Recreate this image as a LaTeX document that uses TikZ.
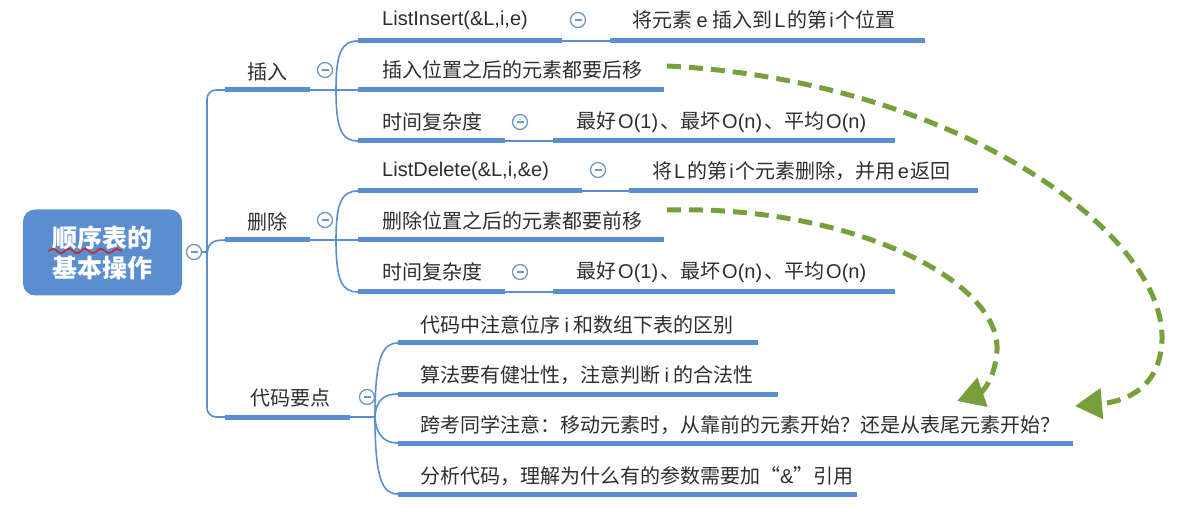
\documentclass[tikz,border=0pt]{standalone}
\usepackage{fontspec}
\setmainfont{Noto Sans CJK SC}
\newfontfamily\latf{Liberation Sans}
\newcommand\la[1]{\hspace{2pt}{\latf #1}\hspace{2pt}}
\newcommand\lb[1]{{\latf #1}}
\usetikzlibrary{arrows.meta,decorations.pathmorphing}
\definecolor{mblue}{HTML}{5A8ED0}
\definecolor{cblue}{HTML}{6F97C9}
\definecolor{rootblue}{HTML}{5A8ED0}
\definecolor{tgray}{HTML}{2E2E2E}
\definecolor{agreen}{HTML}{77A03C}
\definecolor{wred}{HTML}{C62A2A}
\begin{document}
\begin{tikzpicture}[x=1pt,y=-1pt,
 ul/.style={draw=mblue,line width=5pt},
 thinl/.style={draw=mblue,line width=1.6pt},
 txt/.style={anchor=west,inner sep=0pt,text=tgray,font=\fontsize{20}{22}\selectfont},
 minus/.style={circle,draw=cblue,line width=1.3pt,fill=white,minimum size=15pt,inner sep=0pt,
   path picture={\draw[cblue,line width=1.2pt] ([xshift=-3.5pt]path picture bounding box.center) -- ([xshift=3.5pt]path picture bounding box.center);}},
 rootbox/.style={rounded corners=12pt,fill=rootblue,minimum width=159pt,minimum height=86pt,text=white,align=center,
   font=\fontsize{25}{30}\selectfont\bfseries},
 garrow/.style={draw=agreen,line width=5pt,dash pattern=on 14pt off 8pt,-{Triangle[length=27pt,width=30pt]}}
]
\useasboundingbox (0,0) rectangle (1188,518);
% root
\node[rootbox] (root) at (102.5,252.5) {顺序表的\\基本操作};
\draw[wred,line width=1.7pt,decorate,decoration={snake,amplitude=2.2pt,segment length=16pt}] (48,251) -- (122,251);
\node[minus] (m0) at (194,252) {};
% level 1 coordinates
\coordinate (b1s) at (225,90);  \coordinate (b1e) at (310,90);
\coordinate (b2s) at (225,240); \coordinate (b2e) at (310,240);
\coordinate (b3s) at (225,417); \coordinate (b3e) at (350,417);
\coordinate (t0) at (207,252);
\draw[thinl] (m0.east) -- (t0);
\draw[thinl,rounded corners=9pt] (b1s) -- (207,90) -- (207,417) -- (b3s);
\draw[thinl] (207,258) .. controls (207,243) and (212,240) .. (b2s);
\draw[ul] (b1s) -- (b1e);
\draw[ul] (b2s) -- (b2e);
\draw[ul] (b3s) -- (b3e);
\node[txt,anchor=center] (b1) at (267,72) {插入};
\node[txt,anchor=center] (b2) at (267,222) {删除};
\node[txt,anchor=center] (b3) at (290,398) {代码要点};
\node[minus] (m1) at (325,70) {};
\node[minus] (m2) at (325,220) {};
\node[minus] (m3) at (367,397) {};
% ---- 插入 group
\coordinate (j1) at (336,90);
\coordinate (c11s) at (358,41); \coordinate (c11e) at (562,41);
\coordinate (c12s) at (358,90); \coordinate (c12e) at (664,90);
\coordinate (c13s) at (358,141); \coordinate (c13e) at (505,141);
\draw[thinl] (b1e) -- (j1);
\draw[thinl] (j1) .. controls (336,52) and (342,41) .. (c11s);
\draw[thinl] (j1) -- (c12s);
\draw[thinl] (j1) .. controls (336,130) and (342,141) .. (c13s);
\draw[ul] (c11s) -- (c11e);
\draw[ul] (c12s) -- (c12e);
\draw[ul] (c13s) -- (c13e);
\node[txt] (c11) at (382,20) {\lb{ListInsert(\&L,i,e)}};
\node[txt] (c12) at (382,70) {插入位置之后的元素都要后移};
\node[txt] (c13) at (382,122) {时间复杂度};
\node[minus] (m11) at (578,20) {};
\node[minus] (m13) at (520,122) {};
\coordinate (d11s) at (610,41); \coordinate (d11e) at (925,41);
\coordinate (d13s) at (553,141); \coordinate (d13e) at (895,141);
\draw[thinl] (c11e) -- (d11s);
\draw[thinl] (c13e) -- (d13s);
\draw[ul] (d11s) -- (d11e);
\draw[ul] (d13s) -- (d13e);
\node[txt] (d11) at (632,20) {将元素 \lb{e} 插入到\la{L}的第\la{i}个位置};
\node[txt] (d13) at (576,122) {最好\la{O(1)}、最坏\la{O(n)}、平均\la{O(n)}};
% ---- 删除 group
\coordinate (j2) at (336,240);
\coordinate (c21s) at (358,191); \coordinate (c21e) at (582,191);
\coordinate (c22s) at (358,240); \coordinate (c22e) at (664,240);
\coordinate (c23s) at (358,292); \coordinate (c23e) at (505,292);
\draw[thinl] (b2e) -- (j2);
\draw[thinl] (j2) .. controls (336,202) and (342,191) .. (c21s);
\draw[thinl] (j2) -- (c22s);
\draw[thinl] (j2) .. controls (336,281) and (342,292) .. (c23s);
\draw[ul] (c21s) -- (c21e);
\draw[ul] (c22s) -- (c22e);
\draw[ul] (c23s) -- (c23e);
\node[txt] (c21) at (382,171) {\lb{ListDelete(\&L,i,\&e)}};
\node[txt] (c22) at (382,221) {删除位置之后的元素都要前移};
\node[txt] (c23) at (382,272) {时间复杂度};
\node[minus] (m21) at (598,170) {};
\node[minus] (m23) at (520,272) {};
\coordinate (d21s) at (629,191); \coordinate (d21e) at (978,191);
\coordinate (d23s) at (553,292); \coordinate (d23e) at (895,292);
\draw[thinl] (c21e) -- (d21s);
\draw[thinl] (c23e) -- (d23s);
\draw[ul] (d21s) -- (d21e);
\draw[ul] (d23s) -- (d23e);
\node[txt] (d21) at (652,171) {将\la{L}的第\la{i}个元素删除，并用\la{e}返回};
\node[txt] (d23) at (576,272) {最好\la{O(1)}、最坏\la{O(n)}、平均\la{O(n)}};
% ---- 代码要点 group
\coordinate (j3) at (375,417);
\coordinate (c31s) at (398,343); \coordinate (c31e) at (758,343);
\coordinate (c32s) at (398,394); \coordinate (c32e) at (778,394);
\coordinate (c33s) at (398,443); \coordinate (c33e) at (1073,443);
\coordinate (c34s) at (398,494); \coordinate (c34e) at (857,494);
\draw[thinl] (b3e) -- (j3);
\draw[thinl] (j3) .. controls (375,356) and (383,343) .. (c31s);
\draw[thinl] (j3) .. controls (376,399) and (385,394) .. (c32s);
\draw[thinl] (j3) .. controls (376,436) and (385,443) .. (c33s);
\draw[thinl] (j3) .. controls (375,481) and (383,494) .. (c34s);
\draw[ul] (c31s) -- (c31e);
\draw[ul] (c32s) -- (c32e);
\draw[ul] (c33s) -- (c33e);
\draw[ul] (c34s) -- (c34e);
\node[txt] (c31) at (420,325) {代码中注意位序 \lb{i} 和数组下表的区别};
\node[txt] (c32) at (420,375) {算法要有健壮性，注意判断 \lb{i} 的合法性};
\node[txt] (c33) at (420,425) {跨考同学注意：移动元素时，从靠前的元素开始？还是从表尾元素开始？};
\node[txt] (c34) at (420,476) {分析代码，理解为什么有的参数需要加“\lb{\&}”引用};
% ---- green arrows
\coordinate (a1s) at (667,66);  \coordinate (a1e) at (1075,406);
\coordinate (a2s) at (667,210); \coordinate (a2e) at (957,401);
\draw[garrow] (a1s) .. controls (950,80) and (1165,230) .. (1162,340) .. controls (1160,392) and (1120,402) .. (a1e);
\draw[garrow] (a2s) .. controls (850,205) and (1000,280) .. (997,350) .. controls (995,382) and (980,393) .. (a2e);
\end{tikzpicture}
\end{document}
